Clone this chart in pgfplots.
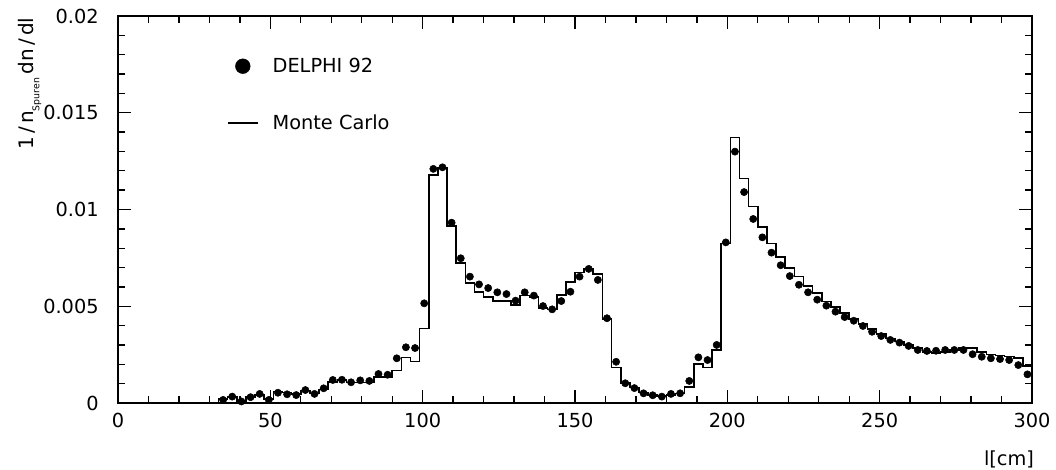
\documentclass[border=0pt]{standalone}
\usepackage{fontspec}
\setmainfont{DejaVu Sans}
\usepackage{pgfplots}
\pgfplotsset{compat=1.18}
\begin{document}
\begin{tikzpicture}
\begin{axis}[
  scale only axis,
  width=685.5pt, height=290.25pt,
  xmin=0, xmax=300, ymin=0, ymax=0.02,
  xtick={0,50,100,150,200,250,300},
  xticklabels={0,50,100,150,200,250,300},
  ytick={0,0.005,0.01,0.015,0.02},
  yticklabels={0,0.005,0.01,0.015,0.02},
  scaled y ticks=false,
  minor x tick num=4, minor y tick num=4,
  tick align=inside,
  major tick length=10pt, minor tick length=5pt,
  axis line style={line width=1.4pt},
  every tick/.style={black, line width=1pt},
  tick label style={font=\fontsize{14.5}{17}\selectfont},
  xticklabel style={yshift=-4pt},
  yticklabel style={xshift=-11pt},
  xlabel={l[cm]},
  xlabel style={font=\fontsize{14.5}{17}\selectfont, at={(axis description cs:1,0)}, anchor=east, yshift=-42pt, xshift=5pt},
  ylabel={1\,/\,n\raisebox{-0.5ex}{\fontsize{7}{8}\selectfont Spuren}\,dn\,/\,dl},
  ylabel style={font=\fontsize{15}{17}\selectfont, at={(axis description cs:-0.0963,1.008)}, anchor=east, rotate=0},
  legend style={draw=none, fill=none, at={(axis description cs:0.119,0.797)}, anchor=west,
    font=\fontsize{14.5}{17}\selectfont, row sep=26pt, inner sep=0pt},
  legend cell align=left,
]
\addplot[only marks, mark=*, mark size=2.7pt, black,
  legend image code/.code={\draw[mark size=5.5pt,mark=*] plot coordinates {(11.25pt,0pt)}; \path (0pt,0pt) (31pt,0pt);}]
coordinates {
(34.5,0.00016)(37.5,0.00033)(40.5,0.00008)(43.5,0.0003)(46.5,0.00047)(49.5,0.00016)
(52.5,0.00053)(55.5,0.00045)(58.5,0.00041)(61.5,0.00067)(64.5,0.00047)(67.5,0.00076)
(70.5,0.00119)(73.5,0.0012)(76.5,0.00107)(79.5,0.00117)(82.5,0.00114)(85.5,0.0015)
(88.5,0.00146)(91.5,0.00231)(94.5,0.00288)(97.5,0.00284)(100.5,0.00515)(103.5,0.0121)
(106.5,0.01218)(109.5,0.00932)(112.5,0.00748)(115.5,0.00653)(118.5,0.00613)(121.5,0.00594)
(124.5,0.00572)(127.5,0.00563)(130.5,0.00529)(133.5,0.00572)(136.5,0.00555)(139.5,0.00501)
(142.5,0.00484)(145.5,0.00527)(148.5,0.00575)(151.5,0.00653)(154.5,0.00693)(157.5,0.00636)
(160.5,0.00438)(163.5,0.00213)(166.5,0.00102)(169.5,0.00077)(172.5,0.0005)(175.5,0.0004)
(178.5,0.00033)(181.5,0.00047)(184.5,0.0005)(187.5,0.00114)(190.5,0.00236)(193.5,0.00222)
(196.5,0.003)(199.5,0.0083)(202.5,0.01299)(205.5,0.0109)(208.5,0.00951)(211.5,0.00856)
(214.5,0.00777)(217.5,0.00712)(220.5,0.00656)(223.5,0.00611)(226.5,0.00572)(229.5,0.00534)
(232.5,0.00503)(235.5,0.00472)(238.5,0.00444)(241.5,0.00425)(244.5,0.00398)(247.5,0.00368)
(250.5,0.00346)(253.5,0.00326)(256.5,0.00312)(259.5,0.00295)(262.5,0.00274)(265.5,0.00269)
(268.5,0.0027)(271.5,0.00274)(274.5,0.00274)(277.5,0.00274)(280.5,0.00252)(283.5,0.00239)
(286.5,0.00231)(289.5,0.00227)(292.5,0.00222)(295.5,0.00196)(298.5,0.00148)
};
\addlegendentry{DELPHI 92}
\addplot[const plot, black, line width=1.2pt,
  legend image code/.code={\draw[line width=1.2pt] (0pt,0pt) -- (22.5pt,0pt); \path (31pt,0pt);}]
coordinates {
(30,0)(33,0.0002)(36,0.0003)(39,0.0001)(42,0.0003)(45,0.0004)(48,0.0002)
(51,0.0006)(54,0.00055)(57,0.00045)(60,0.00065)(63,0.0005)(66,0.0007)
(69,0.0011)(72,0.0012)(75,0.00105)(78,0.00105)(81,0.00105)(84,0.00133)
(87,0.00133)(90,0.00167)(93,0.00236)(96,0.00214)(99,0.00386)(102,0.01178)
(105,0.01213)(108,0.00915)(111,0.00722)(114,0.00619)(117,0.00575)(120,0.00549)
(123,0.00527)(126,0.00527)(129,0.00506)(132,0.00555)(135,0.00549)(138,0.0049)
(141,0.00484)(144,0.00558)(147,0.00624)(150,0.00675)(153,0.00696)(156,0.00667)
(159,0.00433)(162,0.00184)(165,0.00102)(168,0.0008)(171,0.00055)(174,0.00042)
(177,0.00035)(180,0.0004)(183,0.0005)(186,0.00084)(189,0.002)(192,0.00184)
(195,0.00274)(198,0.00825)(201,0.01373)(204,0.01161)(207,0.01015)(210,0.00911)
(213,0.00825)(216,0.00756)(219,0.00699)(222,0.00653)(225,0.00606)(228,0.00567)
(231,0.00524)(234,0.00495)(237,0.00464)(240,0.00433)(243,0.00408)(246,0.00381)
(249,0.00357)(252,0.00334)(255,0.00317)(258,0.003)(261,0.00283)(264,0.00262)
(267,0.00257)(270,0.00262)(273,0.00274)(276,0.00283)(279,0.00283)(282,0.00262)
(285,0.0025)(288,0.00245)(291,0.0024)(294,0.00231)(297,0.0019)(300,0.0019)
};
\addlegendentry{Monte Carlo}
\end{axis}
\pgfresetboundingbox
\path (current axis.south west) ++(-88.5pt,-50.25pt) coordinate (bl);
\path (current axis.north east) ++(18pt,12pt) coordinate (tr);
\path (bl) rectangle (tr);
\end{tikzpicture}
\end{document}
